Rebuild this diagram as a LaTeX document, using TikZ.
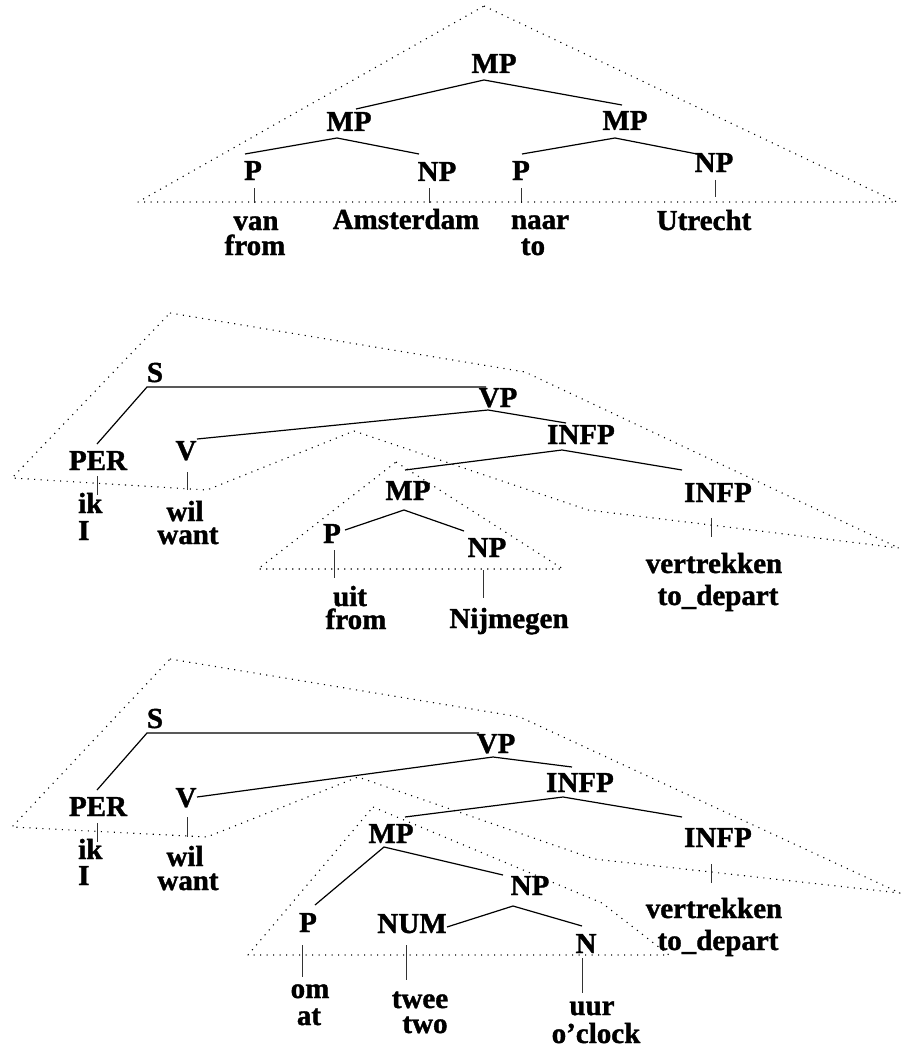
\documentclass[tikz,border=0pt]{standalone}
\usepackage{fontspec}
\newfontfamily\treefont{Liberation Serif}[BoldFeatures={FakeBold=1.3}]
\begin{document}
\begin{tikzpicture}[x=1pt,y=-1pt,
  lbl/.style={font={\treefont\bfseries\fontsize{29}{29}\selectfont}, inner sep=0pt, anchor=base},
  branch/.style={line width=1.2pt},
  tick/.style={line width=0.9pt, black!80},
  hull/.style={line width=1.1pt, dash pattern=on 1.1pt off 5.4pt, line join=round}]
\useasboundingbox (0,0) rectangle (904,1051);

% ---------- tree 1: van Amsterdam naar Utrecht ----------
\node[lbl] (t-mp)  at (494,73)  {MP};
\node[lbl] (t-mpl) at (349,131) {MP};
\node[lbl] (t-mpr) at (625,130) {MP};
\node[lbl] (t-p1)  at (253,180) {P};
\node[lbl] (t-np1) at (437,181) {NP};
\node[lbl] (t-p2)  at (521,180) {P};
\node[lbl] (t-np2) at (714,172) {NP};
\node[lbl] (t-w1) at (256,230) {van};
\node[lbl] (t-g1) at (255,255) {from};
\node[lbl] (t-w2) at (406,229) {Amsterdam};
\node[lbl] (t-w3) at (540,229) {naar};
\node[lbl] (t-g3) at (533,255) {to};
\node[lbl] (t-w4) at (704,230) {Utrecht};

\coordinate (t-mp-j)  at (484,80);
\coordinate (t-mpl-t) at (356,109);
\coordinate (t-mpr-t) at (622,105);
\coordinate (t-mpl-j) at (337,138);
\coordinate (t-mpr-j) at (615,138);
\coordinate (t-p1-t)  at (245,154);
\coordinate (t-np1-t) at (419,154);
\coordinate (t-p2-t)  at (522,154);
\coordinate (t-np2-t) at (697,154);
\draw[branch] (t-mpl-t) -- (t-mp-j) -- (t-mpr-t);
\draw[branch] (t-p1-t) -- (t-mpl-j) -- (t-np1-t);
\draw[branch] (t-p2-t) -- (t-mpr-j) -- (t-np2-t);
\draw[tick] (254,188) -- (254,203);
\draw[tick] (429,188) -- (429,203);
\draw[tick] (521,188) -- (521,203);
\draw[tick] (715,180) -- (715,197);
\draw[hull] (484,6) -- (897,202) -- (138,202) -- cycle;

% ---------- tree 2: ik wil uit Nijmegen vertrekken ----------
\node[lbl] (m-s)     at (155,382) {S};
\node[lbl] (m-per)   at (98,470)  {PER};
\node[lbl] (m-v)     at (186,460) {V};
\node[lbl] (m-vp)    at (498,407) {VP};
\node[lbl] (m-infp)  at (581,444) {INFP};
\node[lbl] (m-mp)    at (408,500) {MP};
\node[lbl] (m-p)     at (332,543) {P};
\node[lbl] (m-np)    at (487,557) {NP};
\node[lbl] (m-infp2) at (718,502) {INFP};
\node[lbl, anchor=base west] (m-w1) at (78,513) {ik};
\node[lbl, anchor=base west] (m-g1) at (78,540) {I};
\node[lbl] (m-w2) at (185,521) {wil};
\node[lbl] (m-g2) at (188,544) {want};
\node[lbl] (m-w3) at (350,606) {uit};
\node[lbl] (m-g3) at (356,629) {from};
\node[lbl] (m-w4) at (509,628) {Nijmegen};
\node[lbl] (m-w5) at (714,573) {vertrekken};
\node[lbl] (m-g5) at (718,605) {to\_depart};

\coordinate (m-s-j)     at (147,387);
\coordinate (m-vp-t)    at (486,387);
\coordinate (m-per-t)   at (97,444);
\coordinate (m-vp-j)    at (488,410);
\coordinate (m-v-t)     at (197,439);
\coordinate (m-infp-t)  at (566,423);
\coordinate (m-infp-j)  at (562,450);
\coordinate (m-mp-t)    at (405,470);
\coordinate (m-infp2-t) at (682,470);
\coordinate (m-mp-j)    at (404,510);
\coordinate (m-p-t)     at (345,530);
\coordinate (m-np-t)    at (464,531);
\draw[branch] (m-per-t) -- (m-s-j) -- (m-vp-t);
\draw[branch] (m-v-t) -- (m-vp-j) -- (m-infp-t);
\draw[branch] (m-mp-t) -- (m-infp-j) -- (m-infp2-t);
\draw[branch] (m-p-t) -- (m-mp-j) -- (m-np-t);
\draw[tick] (97,476) -- (97,495);
\draw[tick] (187,472) -- (187,490);
\draw[tick] (334,550) -- (334,578);
\draw[tick] (483,570) -- (483,598);
\draw[tick] (711,518) -- (711,537);
\draw[hull] (170,313) -- (525,372) -- (899,548) -- (588,510) -- (354,431)
  -- (207,490) -- (12,478) -- cycle;
\draw[hull] (396,462) -- (563,569) -- (258,569) -- cycle;

% ---------- tree 3: ik wil om twee uur vertrekken ----------
\node[lbl] (b-s)     at (155,728) {S};
\node[lbl] (b-per)   at (98,816)  {PER};
\node[lbl] (b-v)     at (186,807) {V};
\node[lbl] (b-vp)    at (496,753) {VP};
\node[lbl] (b-infp)  at (580,792) {INFP};
\node[lbl] (b-mp)    at (391,843) {MP};
\node[lbl] (b-np)    at (530,895) {NP};
\node[lbl] (b-p)     at (308,932) {P};
\node[lbl] (b-num)   at (412,933) {NUM};
\node[lbl] (b-n)     at (586,953) {N};
\node[lbl] (b-infp2) at (718,847) {INFP};
\node[lbl, anchor=base west] (b-w1) at (78,859) {ik};
\node[lbl, anchor=base west] (b-g1) at (78,885) {I};
\node[lbl] (b-w2) at (185,866) {wil};
\node[lbl] (b-g2) at (188,890) {want};
\node[lbl] (b-w3) at (310,998) {om};
\node[lbl] (b-g3) at (309,1025) {at};
\node[lbl] (b-w4) at (420,1008) {twee};
\node[lbl] (b-g4) at (425,1033) {two};
\node[lbl] (b-w5) at (592,1015) {uur};
\node[lbl] (b-g5) at (596,1043) {o’clock};
\node[lbl] (b-w6) at (714,918) {vertrekken};
\node[lbl] (b-g6) at (718,950) {to\_depart};

\coordinate (b-s-j)     at (147,733);
\coordinate (b-vp-t)    at (479,733);
\coordinate (b-per-t)   at (97,790);
\coordinate (b-vp-j)    at (493,757);
\coordinate (b-v-t)     at (197,797);
\coordinate (b-infp-t)  at (572,767);
\coordinate (b-infp-j)  at (563,797);
\coordinate (b-mp-t)    at (405,817);
\coordinate (b-infp2-t) at (682,817);
\coordinate (b-mp-j)    at (384,847);
\coordinate (b-p-t)     at (315,905);
\coordinate (b-np-t)    at (503,875);
\coordinate (b-np-j)    at (513,906);
\coordinate (b-num-t)   at (447,927);
\coordinate (b-n-t)     at (582,926);
\draw[branch] (b-per-t) -- (b-s-j) -- (b-vp-t);
\draw[branch] (b-v-t) -- (b-vp-j) -- (b-infp-t);
\draw[branch] (b-mp-t) -- (b-infp-j) -- (b-infp2-t);
\draw[branch] (b-p-t) -- (b-mp-j) -- (b-np-t);
\draw[branch] (b-num-t) -- (b-np-j) -- (b-n-t);
\draw[tick] (97,823) -- (97,842);
\draw[tick] (187,817) -- (187,837);
\draw[tick] (302,945) -- (302,977);
\draw[tick] (406,945) -- (406,980);
\draw[tick] (582,958) -- (582,993);
\draw[tick] (711,864) -- (711,883);
\draw[hull] (170,659) -- (520,717) -- (900,893) -- (594,859) -- (358,777)
  -- (207,837) -- (12,827) -- cycle;
\draw[hull] (373,807) -- (602,903) -- (669,955) -- (248,955) -- cycle;
\end{tikzpicture}
\end{document}
